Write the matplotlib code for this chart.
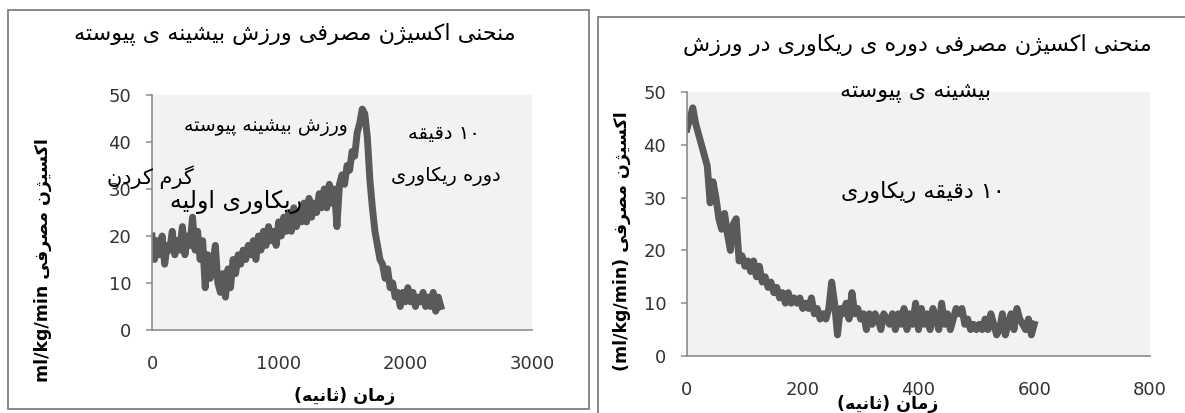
import re
import numpy as np
import matplotlib
matplotlib.use("Agg")
import matplotlib.pyplot as plt
from matplotlib.patches import Rectangle

plt.rcParams['font.family'] = ['DejaVu Sans']

##############################################################################
# data

# left: whole test, one sample every 20 s
left_step = 20
left_vo2 = [20, 15, 19, 16, 20, 14, 18, 17, 21, 16, 19, 17, 22, 16, 20, 18,
            24, 17, 21, 15, 19, 9, 16, 11, 14, 18, 10, 8, 12, 7,
            13, 9, 15, 12, 16, 14, 17, 15, 18, 16, 19, 15, 20, 17, 21, 18,
            22, 19, 21, 18, 23, 20, 24, 21, 25, 21, 26, 22, 25, 23, 27, 23,
            28, 24, 27, 25, 29, 26, 30, 26, 31, 27, 30, 22, 31, 33, 31, 35,
            34, 38, 37, 42, 44, 47, 46, 41, 32, 26, 21, 18, 15, 14, 11, 13,
            9, 10, 7, 8, 5, 8, 6, 9, 6, 8, 5, 7, 6, 8, 5, 7, 5, 8, 4, 7, 5]

# right: recovery only, one sample every 5 s
right_step = 5
right_vo2 = [43, 45, 47, 44, 42, 40, 38, 36, 29, 33, 30, 26, 24, 27, 23, 20,
             25, 26, 18, 19, 17, 18, 16, 18, 15, 17, 14, 15, 13, 14, 12, 13,
             11, 12, 10, 12, 10, 11, 10, 11, 9, 10, 9, 11, 8, 9, 7, 8, 7, 9,
             14, 10, 4, 9, 8, 10, 7, 12, 8, 9, 7, 8, 5, 8, 6, 8, 7, 5, 8, 7,
             6, 8, 5, 8, 6, 9, 5, 8, 6, 10, 5, 9, 6, 8, 5, 9, 7, 5, 10, 6,
             8, 5, 7, 9, 8, 9, 6, 7, 5, 6, 5, 6, 5, 7, 5, 8, 6, 4, 5, 8,
             4, 6, 8, 5, 9, 7, 6, 5, 7, 4, 6]

left_xticks = [0, 1000, 2000, 3000]
right_xticks = [0, 200, 400, 600, 800]
yticks = [0, 10, 20, 30, 40, 50]

title_left = "منحنی اکسیژن مصرفی ورزش بیشینه ی پیوسته"
title_right_1 = "منحنی اکسیژن مصرفی دوره ی ریکاوری در ورزش"
title_right_2 = "بیشینه ی پیوسته"
xlabel = "زمان (ثانیه)"
ylabel = "اکسیژن مصرفی"

##############################################################################
# persian shaping (matplotlib has no complex text layout)

JOIN = {  # isolated, final, initial, medial
    '\u0627': '\uFE8D\uFE8E',
    '\u0628': '\uFE8F\uFE90\uFE91\uFE92',
    '\u067E': '\uFB56\uFB57\uFB58\uFB59',
    '\u062A': '\uFE95\uFE96\uFE97\uFE98',
    '\u062B': '\uFE99\uFE9A\uFE9B\uFE9C',
    '\u062D': '\uFEA1\uFEA2\uFEA3\uFEA4',
    '\u062F': '\uFEA9\uFEAA',
    '\u0631': '\uFEAD\uFEAE',
    '\u0632': '\uFEAF\uFEB0',
    '\u0698': '\uFB8A\uFB8B',
    '\u0633': '\uFEB1\uFEB2\uFEB3\uFEB4',
    '\u0634': '\uFEB5\uFEB6\uFEB7\uFEB8',
    '\u0635': '\uFEB9\uFEBA\uFEBB\uFEBC',
    '\u0641': '\uFED1\uFED2\uFED3\uFED4',
    '\u0642': '\uFED5\uFED6\uFED7\uFED8',
    '\u06A9': '\uFB8E\uFB8F\uFB90\uFB91',
    '\u06AF': '\uFB92\uFB93\uFB94\uFB95',
    '\u0644': '\uFEDD\uFEDE\uFEDF\uFEE0',
    '\u0645': '\uFEE1\uFEE2\uFEE3\uFEE4',
    '\u0646': '\uFEE5\uFEE6\uFEE7\uFEE8',
    '\u0647': '\uFEE9\uFEEA\uFEEB\uFEEC',
    '\u0648': '\uFEED\uFEEE',
    '\u06CC': '\uFBFC\uFBFD\uFBFE\uFBFF',
}


def shape(s):
    s = s.replace('\u064A', '\u06CC').replace('\u0643', '\u06A9')
    out = []
    for i, c in enumerate(s):
        f = JOIN.get(c)
        if f is None:
            out.append(c)
            continue
        prev = s[i - 1] if i > 0 else ''
        nxt = s[i + 1] if i + 1 < len(s) else ''
        a = len(JOIN.get(prev, '')) == 4
        b = len(f) == 4 and nxt in JOIN
        out.append(f[(1 if a else 0) + (2 if b else 0)])
    return ''.join(out)


def rtl(s):
    v = shape(s)[::-1]
    v = v.translate(str.maketrans('()', ')('))
    return re.sub(r'[0-9\u06F0-\u06F9]+', lambda m: m.group(0)[::-1], v)

##############################################################################

W, H = 1185, 413
fig = plt.figure(figsize=(W / 100, H / 100), dpi=100)
fig.patch.set_facecolor('white')

line_c = '#5a5a5a'
bg_c = '#f2f2f2'
spine_c = '#8c8c8c'


def fx(px):
    return px / W


def fy(py):
    return 1 - py / H


# panel frames
fig.patches.append(Rectangle((fx(8), fy(409)), fx(581), 399 / H, fill=False,
                             ec='#7f7f7f', lw=1.3, transform=fig.transFigure))
fig.patches.append(Rectangle((fx(598), fy(420)), fx(600), 403 / H, fill=False,
                             ec='#7f7f7f', lw=1.3, transform=fig.transFigure))


def style(ax, xmax, xticks):
    ax.set_facecolor(bg_c)
    ax.set_xlim(0, xmax)
    ax.set_ylim(0, 50)
    ax.set_xticks(xticks)
    ax.set_yticks(yticks)
    for s in ['top', 'right']:
        ax.spines[s].set_visible(False)
    for s in ['left', 'bottom']:
        ax.spines[s].set_color(spine_c)
        ax.spines[s].set_linewidth(1.2)
    ax.tick_params(axis='x', length=0, pad=18, labelsize=13, labelcolor='#333333')
    ax.tick_params(axis='y', length=4, width=1.1, color=spine_c, pad=11,
                   labelsize=13, labelcolor='#333333')


# left chart
ax1 = fig.add_axes([fx(152), fy(330), fx(380), 235 / H])
style(ax1, 3000, left_xticks)
t1 = np.arange(len(left_vo2)) * left_step
ax1.plot(t1, left_vo2, color=line_c, lw=5, solid_joinstyle='round')

ax1.text(900, 43.2, rtl("ورزش بیشینه پیوسته"), ha='center', va='center', fontsize=13.5)
ax1.text(2305, 41.9, rtl("۱۰ دقیقه"), ha='center', va='center', fontsize=14)
ax1.text(2321, 32.6, rtl("دوره ریکاوری"), ha='center', va='center', fontsize=14)
ax1.text(-16, 32.6, rtl("گرم کردن"), ha='center', va='center', fontsize=15,
         clip_on=False)
ax1.text(663, 27.2, rtl("ریکاوری اولیه"), ha='center', va='center', fontsize=17)

fig.text(fx(295), fy(34), rtl(title_left), ha='center', va='center', fontsize=16)
fig.text(fx(345), fy(396), rtl(xlabel), ha='center', va='center', fontsize=12.5,
         weight='bold')
fig.text(fx(43), fy(260), "ml/kg/min " + rtl(ylabel), ha='center', va='center',
         rotation=90, fontsize=12.5, weight='bold')

# right chart
ax2 = fig.add_axes([fx(687), fy(356), fx(463), 264 / H])
style(ax2, 800, right_xticks)
t2 = np.arange(len(right_vo2)) * right_step
ax2.plot(t2, right_vo2, color=line_c, lw=5, solid_joinstyle='round')

ax2.text(408, 31, rtl("۱۰ دقیقه ریکاوری"), ha='center', va='center', fontsize=16)

fig.text(fx(917), fy(45), rtl(title_right_1), ha='center', va='center', fontsize=16)
fig.text(fx(916), fy(92), rtl(title_right_2), ha='center', va='center', fontsize=16)
fig.text(fx(888), fy(404), rtl(xlabel), ha='center', va='center', fontsize=12.5,
         weight='bold')
fig.text(fx(622), fy(241), "(ml/kg/min) " + rtl(ylabel), ha='center', va='center',
         rotation=90, fontsize=12.5, weight='bold')

fig.savefig("out.png", dpi=100)
